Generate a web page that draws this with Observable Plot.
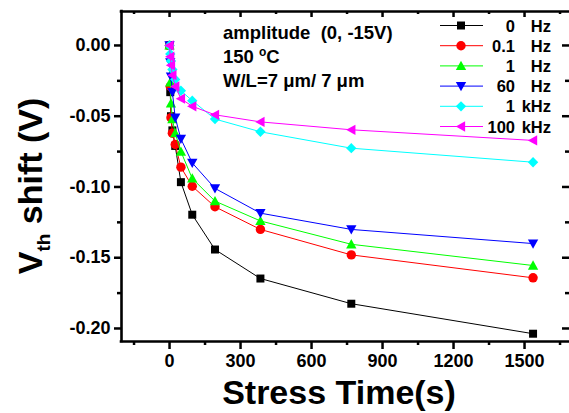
<!DOCTYPE html>
<html><head><meta charset="utf-8">
<script src="https://cdn.jsdelivr.net/npm/d3@7"></script>
<script src="https://cdn.jsdelivr.net/npm/@observablehq/plot@0.6"></script>
<style>body{margin:0;background:#fff} svg{display:block}</style>
</head><body><div id="chart"></div>
<script>
// ---- data ----
const times = [0, 3, 6, 12, 24, 48, 96, 192, 384, 768, 1536];
const shift0Hz   = [0, -0.033, -0.050, -0.060, -0.071, -0.0966, -0.1196, -0.1442, -0.1647, -0.1825, -0.2037];
const shift01Hz  = [0, -0.029, -0.051, -0.062, -0.070, -0.086, -0.0995, -0.114, -0.130, -0.148, -0.1642];
const shift1Hz   = [0, -0.026, -0.041, -0.052, -0.062, -0.075, -0.094, -0.110, -0.124, -0.1405, -0.1555];
const shift60Hz  = [0, -0.012, -0.022, -0.033, -0.051, -0.066, -0.083, -0.101, -0.1185, -0.130, -0.140];
const shift1kHz  = [0, -0.006, -0.011, -0.017, -0.024, -0.032, -0.039, -0.052, -0.061, -0.0726, -0.0825];
const shift100kHz= [0, -0.008, -0.014, -0.021, -0.029, -0.0376, -0.043, -0.049, -0.054, -0.0596, -0.0671];
const legendNumbers = ["0", "0.1", "1", "60", "1", "100"];
const legendUnits = ["Hz", "Hz", "Hz", "Hz", "kHz", "kHz"];
const seriesColors = ["#000000", "#ff0000", "#00ff00", "#0000ff", "#00ffff", "#ff00ff"];
const xMajorTicks = [0, 300, 600, 900, 1200, 1500];
const xMinorTicks = [-150, 150, 450, 750, 1050, 1350, 1650];
const yMajorTicks = [0, -0.05, -0.10, -0.15, -0.20];
const yMinorTicks = [-0.025, -0.075, -0.125, -0.175];
const annotationLines = ["amplitude  (0, -15V)", "150 °C", "W/L=7 μm/ 7 μm"];

// ---- layout ----
const W = 569, H = 413, mL = 121, mR = 0, mT = 11, mB = 72;
const fw = W - mL - mR, fh = H - mT - mB;
const xDomain = [-203, 1690];
const yDomain = [-0.2092, 0.0240];
const font = "'Liberation Sans', Arial, Helvetica, sans-serif";

// custom symbols
function sym(fn) { return { draw(ctx, size) { const r = Math.sqrt(size / Math.PI); fn(ctx, r); } }; }
const shapes = [
  sym((c, r) => { const h = r * 0.85; c.rect(-h, -h, 2 * h, 2 * h); }),
  sym((c, r) => { c.moveTo(r, 0); c.arc(0, 0, r, 0, 2 * Math.PI); }),
  sym((c, r) => { const a = r * 1.1; c.moveTo(0, -a); c.lineTo(a, a * 0.8); c.lineTo(-a, a * 0.8); c.closePath(); }),
  sym((c, r) => { const a = r * 1.1; c.moveTo(0, a); c.lineTo(a, -a * 0.8); c.lineTo(-a, -a * 0.8); c.closePath(); }),
  sym((c, r) => { const a = r * 1.1; c.moveTo(0, -a); c.lineTo(a, 0); c.lineTo(0, a); c.lineTo(-a, 0); c.closePath(); }),
  sym((c, r) => { const a = r * 1.1; c.moveTo(-a, 0); c.lineTo(a * 0.8, -a); c.lineTo(a * 0.8, a); c.closePath(); })
];
const allSeries = [shift0Hz, shift01Hz, shift1Hz, shift60Hz, shift1kHz, shift100kHz];
const R = 4.7;

const seriesMarks = allSeries.flatMap((vals, i) => {
  const data = times.map((t, j) => ({t, v: vals[j]}));
  return [
    Plot.line(data, {x: "t", y: "v", stroke: seriesColors[i], strokeWidth: 1}),
    Plot.dot(data, {x: "t", y: "v", symbol: shapes[i], r: R, fill: seriesColors[i], stroke: "none"})
  ];
});

const chart = Plot.plot({
  width: W, height: H,
  marginLeft: mL, marginRight: mR, marginTop: mT, marginBottom: mB,
  x: {domain: xDomain},
  y: {domain: yDomain},
  style: {fontFamily: font, background: "#fff", color: "#000"},
  marks: [
    // frame (left, bottom, top)
    Plot.ruleX([xDomain[0]], {stroke: "#000", strokeWidth: 2.6, strokeLinecap: "square"}),
    Plot.ruleY(yDomain, {stroke: "#000", strokeWidth: 2.6, strokeLinecap: "square"}),
    // outward ticks left & bottom
    Plot.tickY(yMajorTicks, {y: d => d, insetLeft: -7, insetRight: fw, strokeWidth: 2.5}),
    Plot.tickY(yMinorTicks, {y: d => d, insetLeft: -4, insetRight: fw, strokeWidth: 2.5}),
    Plot.tickX(xMajorTicks, {x: d => d, insetTop: fh, insetBottom: -8, strokeWidth: 2.5}),
    Plot.tickX(xMinorTicks, {x: d => d, insetTop: fh, insetBottom: -4, strokeWidth: 2.5}),
    // inward ticks top & right
    Plot.tickX(xMajorTicks, {x: d => d, insetBottom: fh - 6, strokeWidth: 2.5}),
    Plot.tickX(xMinorTicks, {x: d => d, insetBottom: fh - 3, strokeWidth: 2.5}),
    Plot.tickY(yMajorTicks, {y: d => d, insetLeft: fw - 7, strokeWidth: 2.5}),
    Plot.tickY(yMinorTicks, {y: d => d, insetLeft: fw - 4, strokeWidth: 2.5}),
    // labels
    Plot.axisX({ticks: xMajorTicks, tickSize: 0, tickPadding: 13, label: null, fontSize: 18, fontWeight: "bold", tickFormat: d => String(d)}),
    Plot.axisY({ticks: yMajorTicks, tickSize: 0, tickPadding: 11, label: null, fontSize: 18, fontWeight: "bold", tickFormat: d => d.toFixed(2)}),
    ...seriesMarks
  ]
});
document.getElementById("chart").appendChild(chart);

// ---- titles, annotation, legend ----
const svg = d3.select(chart);
svg.append("text")
  .attr("x", 339).attr("y", 404).attr("text-anchor", "middle")
  .attr("font-family", font).attr("font-weight", "bold").attr("font-size", 34)
  .attr("fill", "#000").text("Stress Time(s)");

const yt = svg.append("text")
  .attr("transform", "translate(42,186) rotate(-90)").attr("text-anchor", "middle")
  .attr("font-family", font).attr("font-weight", "bold").attr("font-size", 34).attr("fill", "#000");
yt.append("tspan").text("V");
yt.append("tspan").attr("font-size", 19).attr("dy", 8).text("th");
yt.append("tspan").attr("dy", -8).text(" shift (V)");

const ann = svg.append("g").attr("font-family", font).attr("font-weight", "bold").attr("font-size", 18.5)
  .attr("fill", "#000").attr("text-anchor", "start");
ann.append("text").attr("x", 223).attr("y", 39).style("white-space", "pre").text(annotationLines[0]);
const t2 = ann.append("text").attr("x", 223).attr("y", 63);
t2.append("tspan").text("150 ");
t2.append("tspan").attr("font-size", 12).attr("dy", -7).text("o");
t2.append("tspan").attr("dy", 7).text("C");
ann.append("text").attr("x", 223).attr("y", 87).text(annotationLines[2]);

const leg = svg.append("g").attr("font-family", font).attr("font-weight", "bold").attr("font-size", 16.5).attr("fill", "#000");
legendNumbers.forEach((num, i) => {
  const y = 25.5 + i * 20.2;
  leg.append("line").attr("x1", 440).attr("x2", 483).attr("y1", y).attr("y2", y)
    .attr("stroke", seriesColors[i]).attr("stroke-width", 1);
  const p = d3.path(); shapes[i].draw(p, Math.PI * R * R);
  leg.append("path").attr("d", p.toString()).attr("transform", `translate(461,${y})`).attr("fill", seriesColors[i]);
  leg.append("text").attr("x", 515).attr("y", y + 6).attr("text-anchor", "end").text(num);
  leg.append("text").attr("x", 551).attr("y", y + 6).attr("text-anchor", "end").text(legendUnits[i]);
});
</script>
</body></html>
